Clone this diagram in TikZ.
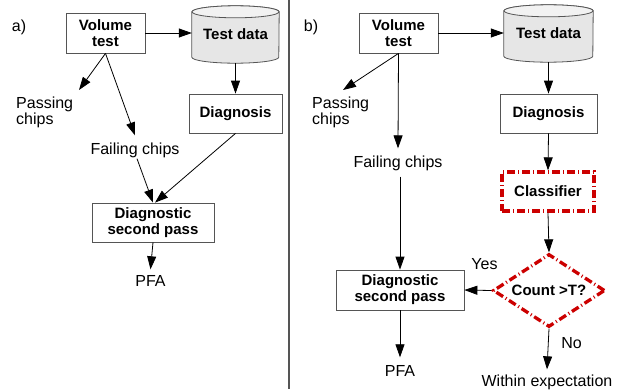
\documentclass[tikz,border=0pt]{standalone}
\usepackage{fontspec}
\setmainfont{Liberation Sans}
\usetikzlibrary{arrows.meta,shapes.geometric,calc,backgrounds}
\definecolor{boxline}{HTML}{555555}
\definecolor{redd}{HTML}{CC0000}
\definecolor{cylfill}{HTML}{E6E6E6}
\definecolor{cyltop}{HTML}{F2F2F2}
\newcommand{\mycyl}[2]{%
  \path[fill=cylfill, draw=boxline, line width=0.8pt]
    ($(#1.north west)+(0,-6)$) -- ($(#1.south west)+(0,6)$)
    arc[start angle=180, end angle=360, x radius=#2, y radius=6pt]
    -- ($(#1.north east)+(0,-6)$)
    arc[start angle=0, end angle=180, x radius=#2, y radius=6pt] -- cycle;
  \draw[fill=cyltop, draw=boxline, line width=0.8pt]
    ($(#1.north)+(0,-6)$) ellipse[x radius=#2, y radius=6pt];}
\begin{document}
\begin{tikzpicture}[x=1pt,y=1pt,
  box/.style={draw=boxline, line width=0.8pt, fill=white, inner sep=0pt, align=center,
    font=\fontsize{15}{16}\selectfont\bfseries},
  cyltext/.style={inner sep=0pt, align=center, font=\fontsize{15}{16}\selectfont\bfseries},
  lbl/.style={inner sep=0pt, font=\fontsize{16}{16}\selectfont},
  arr/.style={line width=0.8pt, -{Triangle[length=13pt,width=9pt]}},
  redbox/.style={draw=redd, line width=3.3pt, dash pattern=on 8pt off 3pt on 1pt off 3pt}
]
\useasboundingbox (0,0) rectangle (624,-389);
\draw[boxline, line width=1.2pt] (289,0) -- (289,-389);

% ---------- panel a ----------
\node[lbl] (la) at (19,-27) {a)};
\node[box, minimum width=79pt, minimum height=40pt] (vt1) at (105.5,-33) {Volume\\test};
\node[cyltext, minimum width=87pt, minimum height=57pt] (td1) at (235.5,-34.5) {Test data};
\begin{scope}[on background layer]\mycyl{td1}{43.5pt}\end{scope}
\node[box, minimum width=93pt, minimum height=39pt] (dg1) at (235.5,-113.5) {Diagnosis};
\node[lbl, align=left, anchor=west] (pc1) at (16,-112) {Passing\\chips};
\node[lbl] (fc1) at (135,-150) {Failing chips};
\node[box, minimum width=122pt, minimum height=39pt] (ds1) at (153,-222.5) {Diagnostic\\second pass};
\node[lbl] (pfa1) at (150.5,-281) {PFA};
\coordinate (pe1) at (79,-90);

\draw[arr] (vt1.east) -- (vt1.east -| td1.west);
\draw[arr] (td1.south) -- (dg1.north);
\draw[arr] (vt1.south) -- (pe1);
\draw[arr] (vt1.south) -- ($(fc1.north)+(0,7)$);
\draw[arr] ($(fc1.south)+(2,-1)$) -- (ds1.north);
\draw[arr] (dg1.south) -- ($(ds1.north)+(2,0)$);
\draw[arr] (ds1.south) -- ($(pfa1.north)+(0,6)$);

% ---------- panel b ----------
\node[lbl] (lb) at (311,-27) {b)};
\node[box, minimum width=79pt, minimum height=40pt] (vt2) at (398.5,-33) {Volume\\test};
\node[cyltext, minimum width=89pt, minimum height=57pt] (td2) at (548.5,-33.5) {Test data};
\begin{scope}[on background layer]\mycyl{td2}{44.5pt}\end{scope}
\node[box, minimum width=97pt, minimum height=39pt] (dg2) at (548.5,-113.5) {Diagnosis};
\node[lbl, align=left, anchor=west] (pc2) at (312,-112) {Passing\\chips};
\node[lbl] (fc2) at (398,-163) {Failing chips};
\node[box, redbox, minimum width=92pt, minimum height=39pt] (cl) at (548,-191.5) {Classifier};
\node[box, minimum width=128pt, minimum height=40pt] (ds2) at (400,-290) {Diagnostic\\second pass};
\node[lbl] (pfa2) at (400,-371) {PFA};
\node[diamond, shape aspect=1.53, redbox, fill=white, inner sep=0pt, minimum width=112pt,
  minimum height=73pt, font=\fontsize{15}{16}\selectfont\bfseries] (ct) at (549,-290.5) {Count >T?};
\node[lbl] (yes) at (484.5,-264) {Yes};
\node[lbl] (no) at (571.5,-343) {No};
\node[lbl] (we) at (547,-382) {Within expectation};
\coordinate (pe2) at (343,-90);

\draw[arr] (vt2.east) -- (vt2.east -| td2.west);
\draw[arr] (td2.south) -- (dg2.north);
\draw[arr] (vt2.south) -- (pe2);
\draw[arr] (vt2.south) -- ($(fc2.north)+(0,7)$);
\draw[arr] ($(fc2.south)+(2,-6)$) -- (ds2.north);
\draw[arr] (dg2.south) -- (cl.north);
\draw[arr] (cl.south) -- (ct.north);
\draw[arr] (ct.west) -- (ds2.east);
\draw[arr] (ct.south) -- ($(we.north)+(0,5)$);
\draw[arr] (ds2.south) -- ($(pfa2.north)+(0,8)$);
\end{tikzpicture}
\end{document}
